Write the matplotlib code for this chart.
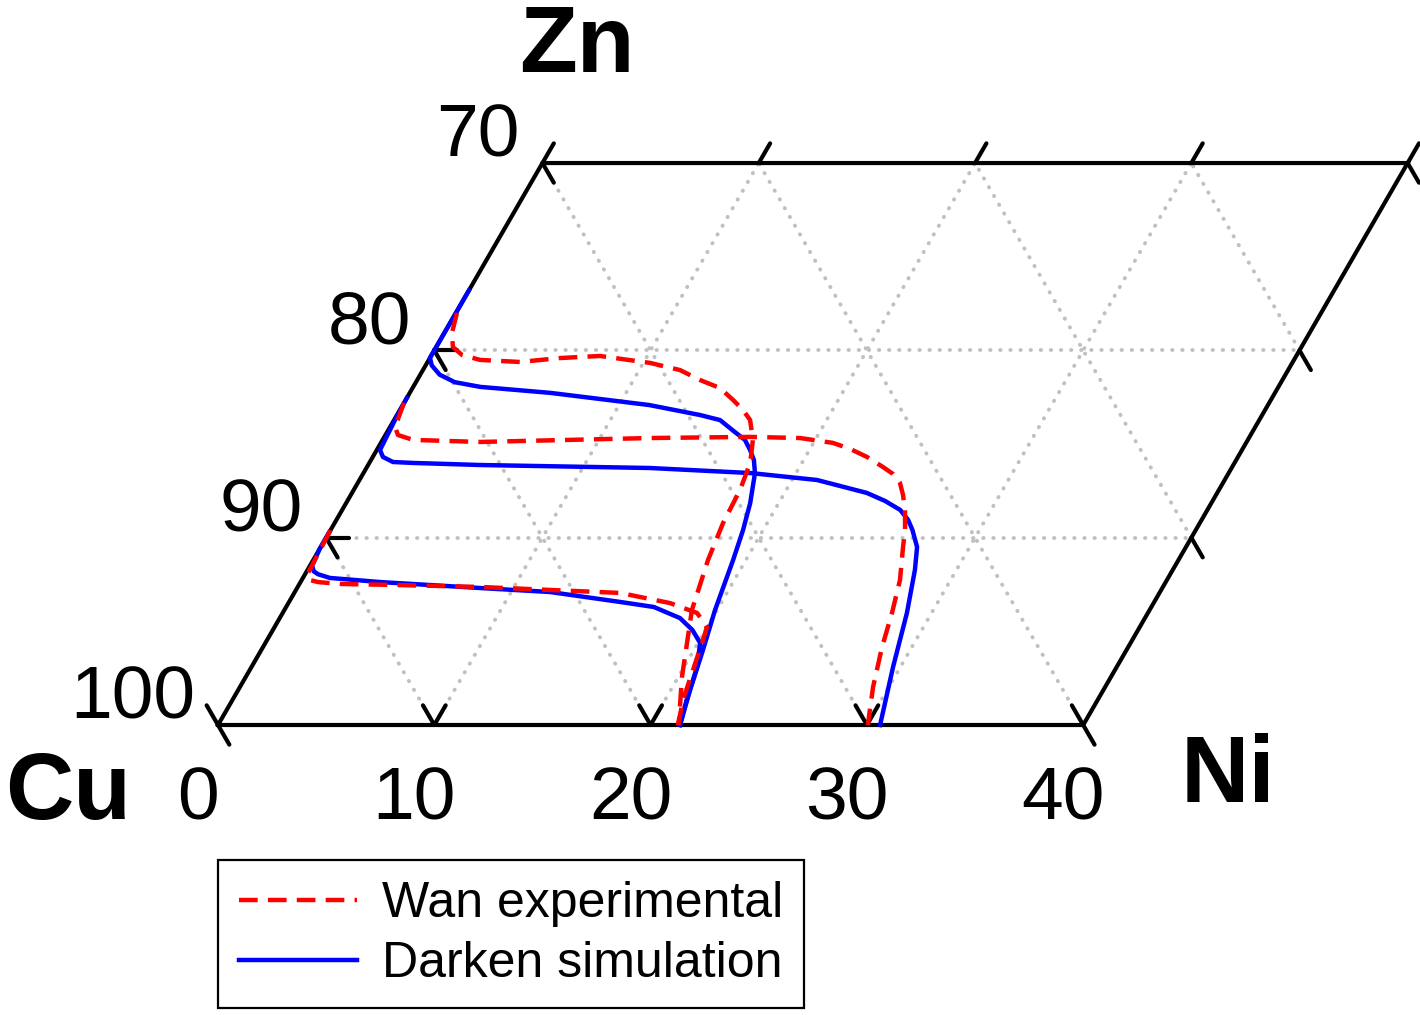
import numpy as np
import matplotlib
matplotlib.use('Agg')
import matplotlib.pyplot as plt

plt.rcParams['font.family'] = ['Liberation Sans', 'DejaVu Sans']

H = np.sqrt(3) / 2

# axis values (Ni along the bottom, Zn up the left side, Cu = 100 - Zn on that side)
ni_ticks = [0, 10, 20, 30, 40]
ni_labels = ['0', '10', '20', '30', '40']
zn_ticks = [0, 10, 20, 30]
cu_labels = ['100', '90', '80', '70']
NI_MAX, ZN_MAX = 40, 30

# diffusion paths (Ni, Zn) in at.%
wan1_ni = [0, 0.11, 0.38, 0.81, 1.88, 4.68, 8.43, 11.75, 15.07, 17.64, 19.16, 19.99, 20.15, 20.49, 20.83, 21.27]
wan1_zn = [10.4, 8.0, 7.74, 7.63, 7.53, 7.47, 7.37, 7.21, 7.05, 6.51, 5.98, 5.23, 4.54, 2.94, 1.33, 0]
wan2_ni = [0, 0.23, 0.58, 1.41, 4.56, 12.31, 16.91, 19.25, 20.9, 21.85, 22.85, 23.86, 24.51, 25.07, 25.53,
           26.02, 26.56, 26.92, 27.66, 28.17, 28.62, 29.27, 30.0, 30.05]
wan2_zn = [17.2, 15.91, 15.48, 15.22, 15.11, 15.32, 15.38, 15.32, 15.06, 14.74, 14.31, 13.77, 13.40, 12.92, 12.28,
           11.48, 10.41, 9.5, 7.74, 5.98, 4.16, 2.03, 0.11, 0]
wan3_ni = [0.05, 0.35, 0.77, 1.41, 2.37, 4.27, 6.02, 7.81, 10.31, 11.88, 13.07, 14.21, 15.14, 15.86, 16.46,
           17.12, 17.61, 17.86, 17.96, 18.25, 18.84, 20.17, 21.18, 21.27]
wan3_zn = [22.0, 20.93, 20.18, 19.75, 19.49, 19.38, 19.59, 19.7, 19.33, 18.95, 18.42, 17.99, 17.35, 16.82, 16.28,
           15.22, 13.99, 12.55, 10.78, 8.81, 6.14, 2.56, 0.27, 0]

dark1_ni = [0, 0, 0.1, 0.33, 0.6, 1.25, 3.7, 8.5, 11.8, 15.3, 17.0, 18.5, 19.4, 20.1, 20.6, 21.0, 21.36]
dark1_zn = [10.3, 9.4, 8.5, 8.2, 8.05, 7.85, 7.63, 7.31, 7.10, 6.57, 6.30, 5.71, 5.07, 4.38, 3.10, 1.33, 0]
dark2_ni = [0, 0.04, 0.15, 0.47, 1.07, 2.02, 5.17, 13.1, 17.9, 21.15, 23.8, 24.86, 25.8, 26.43, 26.9, 27.57,
            28.08, 28.86, 29.66, 30.61]
dark2_zn = [17.46, 16.28, 14.68, 14.31, 14.04, 13.99, 13.88, 13.72, 13.45, 13.08, 12.39, 11.96, 11.48, 10.95,
            10.41, 9.5, 8.28, 5.98, 3.1, 0]
dark3_ni = [0, 0, 0, 0, 0.28, 0.9, 1.8, 3.1, 6.5, 11.4, 14.0, 15.07, 15.9, 16.75, 17.26, 17.70, 18.1, 18.68,
            19.07, 19.41, 19.91, 20.42, 20.89, 21.36]
dark3_zn = [23.2, 21.6, 20.3, 19.6, 19.2, 18.7, 18.3, 18.05, 17.73, 17.08, 16.55, 16.28, 15.75, 15.22, 14.68,
            14.15, 13.45, 11.85, 10.41, 8.81, 6.14, 4.0, 1.87, 0]


def tern(ni, zn):
    ni = np.asarray(ni, dtype=float)
    zn = np.asarray(zn, dtype=float)
    return ni + 0.5 * zn, H * zn


s = 21.63  # pixels per unit
fig = plt.figure(figsize=(14.2, 10.15), dpi=100)
ax = fig.add_axes([0, 0, 1, 1])
ax.set_xlim(-218 / s, (1420 - 218) / s)
ax.set_ylim(-(1015 - 725) / s, 725 / s)
ax.axis('off')

# dotted grid
grid_kw = dict(color='#c0c0c0', lw=2.8, linestyle=(0, (0.1, 2.5)), dash_capstyle='round', zorder=1)
for n in ni_ticks[1:-1]:
    ax.plot(*tern([n, n], [0, ZN_MAX]), **grid_kw)
for z in zn_ticks[1:-1]:
    ax.plot(*tern([0, NI_MAX], [z, z]), **grid_kw)
for c in range(10, NI_MAX + ZN_MAX, 10):
    z0, z1 = max(0, c - NI_MAX), min(ZN_MAX, c)
    ax.plot(*tern([c - z0, c - z1], [z0, z1]), **grid_kw)

# frame
ax.plot(*tern([0, NI_MAX, NI_MAX, 0, 0], [0, 0, ZN_MAX, ZN_MAX, 0]), color='black', lw=3.0,
        solid_joinstyle='miter', zorder=4)

# ticks
A = np.array([1.0, 0.0])
B = np.array([0.5, H])
C = np.array([-0.5, H])
L = 1.05
ticks = []
for n in ni_ticks:
    if 0 < n < NI_MAX:
        ticks += [(n, 0, B), (n, 0, C), (n, ZN_MAX, B)]
    else:
        ticks += [(n, 0, C), (n, 0, -C)]
ticks += [(NI_MAX, ZN_MAX, B), (NI_MAX, ZN_MAX, -C), (0, ZN_MAX, B), (0, ZN_MAX, -C)]
for z in zn_ticks[1:-1]:
    ticks += [(0, z, A), (0, z, -C), (NI_MAX, z, -C)]
for n, z, d in ticks:
    x0, y0 = tern(n, z)
    ax.plot([x0, x0 + L * d[0]], [y0, y0 + L * d[1]], color='black', lw=3.0, solid_capstyle='round', zorder=4)

# tick labels
for n, lab in zip(ni_ticks, ni_labels):
    x0, y0 = tern(n, 0)
    ax.text(x0 - 0.92, y0 - 3.47, lab, fontsize=54, ha='center', va='center')
for z, lab in zip(zn_ticks, cu_labels):
    x0, y0 = tern(0, z)
    ax.text(x0 - 1.06, y0 + 1.2, lab, fontsize=54, ha='right', va='center')

ax.text((577 - 218) / s, (725 - 47) / s, 'Zn', fontsize=68, fontweight='bold', ha='center', va='center')
ax.text((68 - 218) / s, (725 - 795) / s, 'Cu', fontsize=68, fontweight='bold', ha='center', va='center')
ax.text((1228 - 218) / s, (725 - 778) / s, 'Ni', fontsize=68, fontweight='bold', ha='center', va='center')

# diffusion paths
blue_kw = dict(color='#0000ff', lw=3.2, zorder=5)
red_kw = dict(color='#ff0000', lw=3.2, linestyle=(0, (4.2, 2.3)), zorder=6)
l_dark, = ax.plot(*tern(dark1_ni, dark1_zn), label='Darken simulation', **blue_kw)
ax.plot(*tern(dark2_ni, dark2_zn), **blue_kw)
ax.plot(*tern(dark3_ni, dark3_zn), **blue_kw)
l_wan, = ax.plot(*tern(wan1_ni, wan1_zn), label='Wan experimental', **red_kw)
ax.plot(*tern(wan2_ni, wan2_zn), **red_kw)
ax.plot(*tern(wan3_ni, wan3_zn), **red_kw)

leg = ax.legend(handles=[l_wan, l_dark], loc='upper left', bbox_to_anchor=(218 / 1420, 1 - 860 / 1015),
                bbox_transform=fig.transFigure, fontsize=36, handlelength=2.35, handletextpad=0.5,
                borderpad=0.42, labelspacing=0.28, borderaxespad=0, fancybox=False, framealpha=1,
                edgecolor='black')
leg.get_frame().set_linewidth(1.6)

fig.savefig('out.png', dpi=100)
